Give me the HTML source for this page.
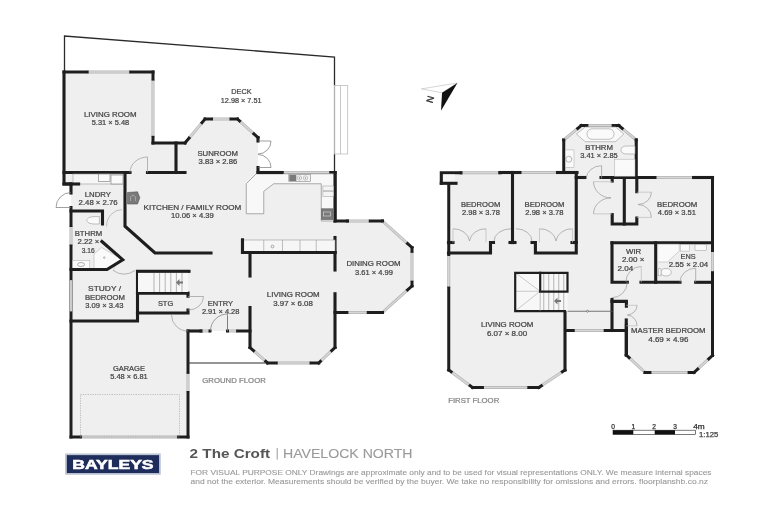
<!DOCTYPE html>
<html><head><meta charset="utf-8"><style>
html,body{margin:0;padding:0;background:#fff;width:768px;height:512px;overflow:hidden}
svg{display:block;font-family:"Liberation Sans",sans-serif}
</style></head><body>
<svg width="768" height="512" viewBox="0 0 768 512">
<g style="filter:grayscale(1)"><path d="M64.5,71 L64.5,36 L334.5,57 L334.5,85.5" fill="none" stroke="#2a2a2a" stroke-width="1.3"/>
<path d="M334.5,154 L334.5,172" fill="none" stroke="#2a2a2a" stroke-width="1.3"/>
<rect x="334.5" y="85.5" width="13.2" height="68.5" fill="none" stroke="#bdbdbd" stroke-width="0.8"/>
<path d="M334.5,85.5 L334.5,154" fill="none" stroke="#b0b0b0" stroke-width="1.3"/>
<path d="M340.5,85.5 L340.5,154" fill="none" stroke="#bdbdbd" stroke-width="0.8"/>
<polygon points="64,72 153,72 153,143 185,143 205,119 237.5,119 258,137.5 258,172.5 335,172.5 335,221 382.5,221 412,247.5 412,286 382.5,312.5 335,312.5 335,347.5 318.75,363 267.5,363 250,347.5 250,331 188,331 188,437 71,437 71,184 64,184" fill="#efefef" stroke="none" stroke-width="0"/>
<polygon points="440.5,172.5 563.75,172.5 563.75,140 581.25,125.5 618.75,125.5 636.25,140 636.25,177.5 712.5,177.5 712.5,355.5 694,372.5 645,372.5 626.25,355 626.25,330.5 565,330.5 565,370 538.75,387.5 472.5,387.5 448.75,370 448.75,183.75 440.5,183.75" fill="#efefef" stroke="none" stroke-width="0"/>
<path d="M87.14,72.00 L130.75,72.00" stroke="#b4b4b4" stroke-width="3.0" fill="none"/>
<path d="M87.14,72.00 L130.75,72.00" stroke="#d6d6d6" stroke-width="1.6" fill="none"/>
<path d="M64,72 L87.14,72.00" stroke="#1e1e1e" stroke-width="3.0" fill="none" stroke-linecap="square"/>
<path d="M130.75,72.00 L153,72" stroke="#1e1e1e" stroke-width="3.0" fill="none" stroke-linecap="square"/>
<path d="M64,72 L64,184 L71,184" fill="none" stroke="#1e1e1e" stroke-width="3.1" stroke-linecap="square" stroke-linejoin="miter"/>
<path d="M153.00,79.10 L153.00,137.32" stroke="#b4b4b4" stroke-width="3.0" fill="none"/>
<path d="M153.00,79.10 L153.00,137.32" stroke="#d6d6d6" stroke-width="1.6" fill="none"/>
<path d="M153,72 L153.00,79.10" stroke="#1e1e1e" stroke-width="3.0" fill="none" stroke-linecap="square"/>
<path d="M153.00,137.32 L153,143" stroke="#1e1e1e" stroke-width="3.0" fill="none" stroke-linecap="square"/>
<path d="M153,143 L185,143" fill="none" stroke="#1e1e1e" stroke-width="3.1" stroke-linecap="square" stroke-linejoin="miter"/>
<path d="M189.00,138.20 L202.00,122.60" stroke="#b4b4b4" stroke-width="3.0" fill="none"/>
<path d="M189.00,138.20 L202.00,122.60" stroke="#d6d6d6" stroke-width="1.6" fill="none"/>
<path d="M185,143 L189.00,138.20" stroke="#1e1e1e" stroke-width="3.0" fill="none" stroke-linecap="square"/>
<path d="M202.00,122.60 L205,119" stroke="#1e1e1e" stroke-width="3.0" fill="none" stroke-linecap="square"/>
<path d="M211.50,119.00 L231.00,119.00" stroke="#b4b4b4" stroke-width="3.0" fill="none"/>
<path d="M211.50,119.00 L231.00,119.00" stroke="#d6d6d6" stroke-width="1.6" fill="none"/>
<path d="M205,119 L211.50,119.00" stroke="#1e1e1e" stroke-width="3.0" fill="none" stroke-linecap="square"/>
<path d="M231.00,119.00 L237.5,119" stroke="#1e1e1e" stroke-width="3.0" fill="none" stroke-linecap="square"/>
<path d="M239.55,120.85 L253.90,133.80" stroke="#b4b4b4" stroke-width="3.0" fill="none"/>
<path d="M239.55,120.85 L253.90,133.80" stroke="#d6d6d6" stroke-width="1.6" fill="none"/>
<path d="M237.5,119 L239.55,120.85" stroke="#1e1e1e" stroke-width="3.0" fill="none" stroke-linecap="square"/>
<path d="M253.90,133.80 L258,137.5" stroke="#1e1e1e" stroke-width="3.0" fill="none" stroke-linecap="square"/>
<path d="M258,137.5 L258,141" fill="none" stroke="#1e1e1e" stroke-width="3.1" stroke-linecap="square" stroke-linejoin="miter"/>
<path d="M258,167.5 L258,172.5 L282,172.5" fill="none" stroke="#1e1e1e" stroke-width="3.1" stroke-linecap="square" stroke-linejoin="miter"/>
<path d="M282.00,172.50 L330.76,172.50" stroke="#b4b4b4" stroke-width="3.0" fill="none"/>
<path d="M282.00,172.50 L330.76,172.50" stroke="#d6d6d6" stroke-width="1.6" fill="none"/>
<path d="M282,172.5 L282.00,172.50" stroke="#1e1e1e" stroke-width="3.0" fill="none" stroke-linecap="square"/>
<path d="M330.76,172.50 L335,172.5" stroke="#1e1e1e" stroke-width="3.0" fill="none" stroke-linecap="square"/>
<path d="M335,172.5 L335,221 L347.5,221" fill="none" stroke="#1e1e1e" stroke-width="3.1" stroke-linecap="square" stroke-linejoin="miter"/>
<path d="M347.50,221.00 L370.25,221.00" stroke="#b4b4b4" stroke-width="3.0" fill="none"/>
<path d="M347.50,221.00 L370.25,221.00" stroke="#d6d6d6" stroke-width="1.6" fill="none"/>
<path d="M347.5,221 L347.50,221.00" stroke="#1e1e1e" stroke-width="3.0" fill="none" stroke-linecap="square"/>
<path d="M370.25,221.00 L382.5,221" stroke="#1e1e1e" stroke-width="3.0" fill="none" stroke-linecap="square"/>
<path d="M382.50,221.00 L407.57,243.53" stroke="#b4b4b4" stroke-width="3.0" fill="none"/>
<path d="M382.50,221.00 L407.57,243.53" stroke="#d6d6d6" stroke-width="1.6" fill="none"/>
<path d="M382.5,221 L382.50,221.00" stroke="#1e1e1e" stroke-width="3.0" fill="none" stroke-linecap="square"/>
<path d="M407.57,243.53 L412,247.5" stroke="#1e1e1e" stroke-width="3.0" fill="none" stroke-linecap="square"/>
<path d="M412.00,251.35 L412.00,282.15" stroke="#b4b4b4" stroke-width="3.0" fill="none"/>
<path d="M412.00,251.35 L412.00,282.15" stroke="#d6d6d6" stroke-width="1.6" fill="none"/>
<path d="M412,247.5 L412.00,251.35" stroke="#1e1e1e" stroke-width="3.0" fill="none" stroke-linecap="square"/>
<path d="M412.00,282.15 L412,286" stroke="#1e1e1e" stroke-width="3.0" fill="none" stroke-linecap="square"/>
<path d="M407.57,289.98 L382.50,312.50" stroke="#b4b4b4" stroke-width="3.0" fill="none"/>
<path d="M407.57,289.98 L382.50,312.50" stroke="#d6d6d6" stroke-width="1.6" fill="none"/>
<path d="M412,286 L407.57,289.98" stroke="#1e1e1e" stroke-width="3.0" fill="none" stroke-linecap="square"/>
<path d="M382.50,312.50 L382.5,312.5" stroke="#1e1e1e" stroke-width="3.0" fill="none" stroke-linecap="square"/>
<path d="M368.25,312.50 L346.88,312.50" stroke="#b4b4b4" stroke-width="3.0" fill="none"/>
<path d="M368.25,312.50 L346.88,312.50" stroke="#d6d6d6" stroke-width="1.6" fill="none"/>
<path d="M382.5,312.5 L368.25,312.50" stroke="#1e1e1e" stroke-width="3.0" fill="none" stroke-linecap="square"/>
<path d="M346.88,312.50 L335,312.5" stroke="#1e1e1e" stroke-width="3.0" fill="none" stroke-linecap="square"/>
<path d="M335,237.5 L335,270" fill="none" stroke="#1e1e1e" stroke-width="3.1" stroke-linecap="square" stroke-linejoin="miter"/>
<path d="M335,293.75 L335,347.5" fill="none" stroke="#1e1e1e" stroke-width="3.1" stroke-linecap="square" stroke-linejoin="miter"/>
<path d="M331.75,350.60 L320.38,361.45" stroke="#b4b4b4" stroke-width="3.0" fill="none"/>
<path d="M331.75,350.60 L320.38,361.45" stroke="#d6d6d6" stroke-width="1.6" fill="none"/>
<path d="M335,347.5 L331.75,350.60" stroke="#1e1e1e" stroke-width="3.0" fill="none" stroke-linecap="square"/>
<path d="M320.38,361.45 L318.75,363" stroke="#1e1e1e" stroke-width="3.0" fill="none" stroke-linecap="square"/>
<path d="M311.06,363.00 L276.21,363.00" stroke="#b4b4b4" stroke-width="3.0" fill="none"/>
<path d="M311.06,363.00 L276.21,363.00" stroke="#d6d6d6" stroke-width="1.6" fill="none"/>
<path d="M318.75,363 L311.06,363.00" stroke="#1e1e1e" stroke-width="3.0" fill="none" stroke-linecap="square"/>
<path d="M276.21,363.00 L267.5,363" stroke="#1e1e1e" stroke-width="3.0" fill="none" stroke-linecap="square"/>
<path d="M265.75,361.45 L253.50,350.60" stroke="#b4b4b4" stroke-width="3.0" fill="none"/>
<path d="M265.75,361.45 L253.50,350.60" stroke="#d6d6d6" stroke-width="1.6" fill="none"/>
<path d="M267.5,363 L265.75,361.45" stroke="#1e1e1e" stroke-width="3.0" fill="none" stroke-linecap="square"/>
<path d="M253.50,350.60 L250,347.5" stroke="#1e1e1e" stroke-width="3.0" fill="none" stroke-linecap="square"/>
<path d="M250,347.5 L250,307.5" fill="none" stroke="#1e1e1e" stroke-width="3.1" stroke-linecap="square" stroke-linejoin="miter"/>
<path d="M250,253 L250,276" fill="none" stroke="#1e1e1e" stroke-width="3.1" stroke-linecap="square" stroke-linejoin="miter"/>
<path d="M64,172.5 L130,172.5" fill="none" stroke="#1e1e1e" stroke-width="3.1" stroke-linecap="square" stroke-linejoin="miter"/>
<path d="M147.5,172.5 L185,172.5" fill="none" stroke="#1e1e1e" stroke-width="3.1" stroke-linecap="square" stroke-linejoin="miter"/>
<path d="M176,143 L176,172.5" fill="none" stroke="#1e1e1e" stroke-width="3.1" stroke-linecap="square" stroke-linejoin="miter"/>
<path d="M125,172.5 L125,226.25 L155,253 L211,253" fill="none" stroke="#1e1e1e" stroke-width="3.1" stroke-linecap="square" stroke-linejoin="miter"/>
<path d="M71,184 L71,193" fill="none" stroke="#1e1e1e" stroke-width="3.1" stroke-linecap="square" stroke-linejoin="miter"/>
<path d="M71.00,225.49 L71.00,246.01" stroke="#b4b4b4" stroke-width="3.0" fill="none"/>
<path d="M71.00,225.49 L71.00,246.01" stroke="#d6d6d6" stroke-width="1.6" fill="none"/>
<path d="M71,207.5 L71.00,225.49" stroke="#1e1e1e" stroke-width="3.0" fill="none" stroke-linecap="square"/>
<path d="M71.00,246.01 L71,437" stroke="#1e1e1e" stroke-width="3.0" fill="none" stroke-linecap="square"/>
<path d="M71,280.2 L71,311.3" stroke="#b4b4b4" stroke-width="2.8"/><path d="M71,280.2 L71,311.3" stroke="#d6d6d6" stroke-width="1.4"/>
<path d="M71,211 L102.5,211 L102.5,224" fill="none" stroke="#1e1e1e" stroke-width="3.1" stroke-linecap="square" stroke-linejoin="miter"/>
<path d="M71,321 L137.5,321 L137.5,271.25 L189,271.25" fill="none" stroke="#1e1e1e" stroke-width="3.1" stroke-linecap="square" stroke-linejoin="miter"/>
<path d="M137.5,293 L188,293 L188,296.25" fill="none" stroke="#1e1e1e" stroke-width="3.1" stroke-linecap="square" stroke-linejoin="miter"/>
<path d="M137.5,313 L188,313 L188,310" fill="none" stroke="#1e1e1e" stroke-width="3.1" stroke-linecap="square" stroke-linejoin="miter"/>
<path d="M188.00,372.34 L188.00,392.48" stroke="#b4b4b4" stroke-width="3.0" fill="none"/>
<path d="M188.00,372.34 L188.00,392.48" stroke="#d6d6d6" stroke-width="1.6" fill="none"/>
<path d="M188,331 L188.00,372.34" stroke="#1e1e1e" stroke-width="3.0" fill="none" stroke-linecap="square"/>
<path d="M188.00,392.48 L188,437" stroke="#1e1e1e" stroke-width="3.0" fill="none" stroke-linecap="square"/>
<path d="M80.36,437.00 L178.64,437.00" stroke="#b4b4b4" stroke-width="3.0" fill="none"/>
<path d="M80.36,437.00 L178.64,437.00" stroke="#d6d6d6" stroke-width="1.6" fill="none"/>
<path d="M71,437 L80.36,437.00" stroke="#1e1e1e" stroke-width="3.0" fill="none" stroke-linecap="square"/>
<path d="M178.64,437.00 L188,437" stroke="#1e1e1e" stroke-width="3.0" fill="none" stroke-linecap="square"/>
<path d="M188,331 L201,331" fill="none" stroke="#1e1e1e" stroke-width="3.1" stroke-linecap="square" stroke-linejoin="miter"/>
<path d="M201.00,331.00 L210.00,331.00" stroke="#b4b4b4" stroke-width="3.0" fill="none"/>
<path d="M201.00,331.00 L210.00,331.00" stroke="#d6d6d6" stroke-width="1.6" fill="none"/>
<path d="M201,331 L201.00,331.00" stroke="#1e1e1e" stroke-width="3.0" fill="none" stroke-linecap="square"/>
<path d="M210.00,331.00 L210,331" stroke="#1e1e1e" stroke-width="3.0" fill="none" stroke-linecap="square"/>
<path d="M227.50,331.00 L237.62,331.00" stroke="#b4b4b4" stroke-width="3.0" fill="none"/>
<path d="M227.50,331.00 L237.62,331.00" stroke="#d6d6d6" stroke-width="1.6" fill="none"/>
<path d="M227.5,331 L227.50,331.00" stroke="#1e1e1e" stroke-width="3.0" fill="none" stroke-linecap="square"/>
<path d="M237.62,331.00 L250,331" stroke="#1e1e1e" stroke-width="3.0" fill="none" stroke-linecap="square"/>
<path d="M227.5,316 L227.5,331" fill="none" stroke="#777" stroke-width="0.8"/>
<path d="M188,363 L267.5,363" fill="none" stroke="#2a2a2a" stroke-width="1.0"/>
<path d="M242.5,240 L242.5,252.5 L335,252.5" fill="none" stroke="#1e1e1e" stroke-width="3.1" stroke-linecap="square" stroke-linejoin="miter"/>
<rect x="242.5" y="240" width="92.5" height="12.5" fill="#f6f6f6" stroke="#999" stroke-width="0.6"/>
<path d="M263.75,240 L263.75,252.5" fill="none" stroke="#999" stroke-width="0.6"/>
<path d="M282.5,240 L282.5,252.5" fill="none" stroke="#999" stroke-width="0.6"/>
<path d="M300,240 L300,252.5" fill="none" stroke="#999" stroke-width="0.6"/>
<path d="M316.25,240 L316.25,252.5" fill="none" stroke="#999" stroke-width="0.6"/>
<circle cx="272.5" cy="246.5" r="1.4" fill="none" stroke="#777" stroke-width="0.6"/>
<path d="M242.5,240 L242.5,252.5 L335,252.5" fill="none" stroke="#1e1e1e" stroke-width="3.1" stroke-linecap="square" stroke-linejoin="miter"/>
<polygon points="246.25,213.75 246.25,183.75 256.25,173.75 335,173.75 335,221 321.25,221 321.25,183.75 273.75,183.75 263.75,191.25 263.75,213.75" fill="#f8f8f8" stroke="#8a8a8a" stroke-width="0.7"/>
<path d="M258,172.5 L282,172.5" fill="none" stroke="#1e1e1e" stroke-width="3.1" stroke-linecap="square" stroke-linejoin="miter"/>
<path d="M335,172.5 L335,221" fill="none" stroke="#1e1e1e" stroke-width="3.1" stroke-linecap="square" stroke-linejoin="miter"/>
<rect x="288.8" y="174.5" width="21.5" height="7" fill="#f2f2f2" stroke="#888" stroke-width="0.6"/>
<rect x="289.3" y="175" width="7" height="6" fill="#7a7a7a"/>
<circle cx="299.5" cy="178" r="2.2" fill="none" stroke="#999" stroke-width="0.5"/><circle cx="305.5" cy="178" r="2.2" fill="none" stroke="#999" stroke-width="0.5"/>
<circle cx="299.5" cy="178" r="0.6" fill="#555"/><circle cx="305.5" cy="178" r="0.6" fill="#555"/>
<rect x="322.9" y="186" width="10.8" height="4.8" fill="#f4f4f4" stroke="#999" stroke-width="0.5"/>
<rect x="322.9" y="191.5" width="10.8" height="4.8" fill="#f4f4f4" stroke="#999" stroke-width="0.5"/>
<rect x="321.5" y="208.8" width="11.5" height="10.8" fill="#7a7a7a" stroke="#555" stroke-width="0.5"/>
<rect x="323.5" y="212" width="7" height="4" fill="none" stroke="#ddd" stroke-width="0.6"/>
<polygon points="127.5,192.5 137.5,191.8 139.8,197.8 137.5,204 127.5,204" fill="#7a7a7a" stroke="#555" stroke-width="0.6"/>
<path d="M130.5,201 L130.5,197 Q133,193.5 135.5,197 L135.5,201" fill="none" stroke="#ccc" stroke-width="0.5"/>
<rect x="73" y="174" width="50" height="10" fill="#f6f6f6" stroke="#999" stroke-width="0.6"/>
<rect x="98.6" y="174" width="11.4" height="7.5" fill="#fafafa" stroke="#777" stroke-width="0.6"/>
<rect x="111" y="175" width="12" height="9" fill="#fafafa" stroke="#777" stroke-width="0.6"/>
<path d="M64,184 L78.6,184" fill="none" stroke="#1e1e1e" stroke-width="3.1" stroke-linecap="square" stroke-linejoin="miter"/>
<rect x="138" y="272.5" width="50" height="19.5" fill="#f7f7f7"/>
<path d="M154,272.5 L154,292" fill="none" stroke="#888" stroke-width="0.6"/>
<path d="M159.6,272.5 L159.6,292" fill="none" stroke="#888" stroke-width="0.6"/>
<path d="M165.2,272.5 L165.2,292" fill="none" stroke="#888" stroke-width="0.6"/>
<path d="M170.8,272.5 L170.8,292" fill="none" stroke="#888" stroke-width="0.6"/>
<path d="M176.4,272.5 L176.4,292" fill="none" stroke="#888" stroke-width="0.6"/>
<path d="M182,272.5 L182,292" fill="none" stroke="#888" stroke-width="0.6"/>
<path d="M176,282.5 L179.5,279 L179.5,281.5 L183,281.5 L183,283.5 L179.5,283.5 L179.5,286 Z" fill="#777"/>
<path d="M137.5,271.6 L188.8,271.6" fill="none" stroke="#1e1e1e" stroke-width="2.3" stroke-linecap="square" stroke-linejoin="miter"/>
<path d="M137.5,293.3 L188,293.3" fill="none" stroke="#1e1e1e" stroke-width="2.3" stroke-linecap="square" stroke-linejoin="miter"/>
<path d="M188,296.5 L203.5,296.5 A15,13.5 0 0 1 188,310" fill="none" stroke="#999" stroke-width="0.7"/>
<path d="M227.5,331 L227.50,314.00 A17,17 0 0 0 210.50,331.00" fill="none" stroke="#777" stroke-width="0.7"/>
<path d="M171.5,315 A16.5,16 0 0 0 188,331" fill="none" stroke="#999" stroke-width="0.7"/>
<path d="M71,207.5 L56.00,207.50 A15,15 0 0 1 71.00,192.50" fill="none" stroke="#777" stroke-width="0.7"/>
<path d="M147.5,172.5 L147.5,157 A17.5,15.5 0 0 0 130,172.5" fill="none" stroke="#999" stroke-width="0.7"/>
<path d="M258,141 L271.00,141.00 A13,13 0 0 1 258.00,154.00" fill="none" stroke="#777" stroke-width="0.7"/>
<path d="M258,167.5 L271.00,167.50 A13,13 0 0 0 258.00,154.50" fill="none" stroke="#777" stroke-width="0.7"/>
<rect x="80.5" y="394.5" width="99" height="42.5" fill="none" stroke="#999" stroke-width="0.6" stroke-dasharray="1.2,1.2"/>
<path d="M106.5,226.5 A15.3,17 0 0 1 121.8,209.6" fill="none" stroke="#aaa" stroke-width="0.7"/>
<path d="M113,270.4 Q124,278 135.2,270.4" fill="none" stroke="#999" stroke-width="0.7"/>
<path d="M119.5,258 L113,270.4" fill="none" stroke="#bbb" stroke-width="0.6"/>
<path d="M86.4,220.3 Q88,216.6 93,216.6 L99.4,216.6 L99.4,224 L93,224 Q88,224 86.4,220.3 Z" fill="#fafafa" stroke="#999" stroke-width="0.6"/>
<polygon points="94,254.2 101.5,247.5 122.7,259.7 107,268.6 94,268.6" fill="#fafafa" stroke="#aaa" stroke-width="0.5"/>
<rect x="72.7" y="260.4" width="17.1" height="8.2" fill="#fafafa" stroke="#aaa" stroke-width="0.5"/>
<ellipse cx="81" cy="264.5" rx="3.5" ry="2" fill="none" stroke="#777" stroke-width="0.6"/>
<circle cx="104.3" cy="257.6" r="0.8" fill="none" stroke="#777" stroke-width="0.5"/>
<path d="M71,269.5 L107,269.5 L122.7,259.7 L101.9,241.5" fill="none" stroke="#1e1e1e" stroke-width="3.1" stroke-linecap="square" stroke-linejoin="miter"/>
<path d="M441.3,183.3 L441.3,172.8 L461,172.8" fill="none" stroke="#1e1e1e" stroke-width="3.1" stroke-linecap="square" stroke-linejoin="miter"/>
<path d="M461.00,172.80 L500.00,172.80" stroke="#b4b4b4" stroke-width="3.0" fill="none"/>
<path d="M461.00,172.80 L500.00,172.80" stroke="#d6d6d6" stroke-width="1.6" fill="none"/>
<path d="M461,172.8 L461.00,172.80" stroke="#1e1e1e" stroke-width="3.0" fill="none" stroke-linecap="square"/>
<path d="M500.00,172.80 L500,172.8" stroke="#1e1e1e" stroke-width="3.0" fill="none" stroke-linecap="square"/>
<path d="M500,172.5 L520,172.5" fill="none" stroke="#1e1e1e" stroke-width="3.1" stroke-linecap="square" stroke-linejoin="miter"/>
<path d="M520.00,172.50 L557.50,172.50" stroke="#b4b4b4" stroke-width="3.0" fill="none"/>
<path d="M520.00,172.50 L557.50,172.50" stroke="#d6d6d6" stroke-width="1.6" fill="none"/>
<path d="M520,172.5 L520.00,172.50" stroke="#1e1e1e" stroke-width="3.0" fill="none" stroke-linecap="square"/>
<path d="M557.50,172.50 L557.5,172.5" stroke="#1e1e1e" stroke-width="3.0" fill="none" stroke-linecap="square"/>
<path d="M557.5,172.5 L577,172.5" fill="none" stroke="#1e1e1e" stroke-width="3.1" stroke-linecap="square" stroke-linejoin="miter"/>
<rect x="443" y="174.5" width="12" height="7.5" fill="#f6f6f6"/>
<path d="M441.3,183.3 L456,183.3" fill="none" stroke="#1e1e1e" stroke-width="3.1" stroke-linecap="square" stroke-linejoin="miter"/>
<path d="M448.75,254.53 L448.75,288.05" stroke="#b4b4b4" stroke-width="3.0" fill="none"/>
<path d="M448.75,254.53 L448.75,288.05" stroke="#d6d6d6" stroke-width="1.6" fill="none"/>
<path d="M448.75,183.75 L448.75,254.53" stroke="#1e1e1e" stroke-width="3.0" fill="none" stroke-linecap="square"/>
<path d="M448.75,288.05 L448.75,370" stroke="#1e1e1e" stroke-width="3.0" fill="none" stroke-linecap="square"/>
<path d="M451.12,371.75 L470.12,385.75" stroke="#b4b4b4" stroke-width="3.0" fill="none"/>
<path d="M451.12,371.75 L470.12,385.75" stroke="#d6d6d6" stroke-width="1.6" fill="none"/>
<path d="M448.75,370 L451.12,371.75" stroke="#1e1e1e" stroke-width="3.0" fill="none" stroke-linecap="square"/>
<path d="M470.12,385.75 L472.5,387.5" stroke="#1e1e1e" stroke-width="3.0" fill="none" stroke-linecap="square"/>
<path d="M482.44,387.50 L528.81,387.50" stroke="#b4b4b4" stroke-width="3.0" fill="none"/>
<path d="M482.44,387.50 L528.81,387.50" stroke="#d6d6d6" stroke-width="1.6" fill="none"/>
<path d="M472.5,387.5 L482.44,387.50" stroke="#1e1e1e" stroke-width="3.0" fill="none" stroke-linecap="square"/>
<path d="M528.81,387.50 L538.75,387.5" stroke="#1e1e1e" stroke-width="3.0" fill="none" stroke-linecap="square"/>
<path d="M541.38,385.75 L562.38,371.75" stroke="#b4b4b4" stroke-width="3.0" fill="none"/>
<path d="M541.38,385.75 L562.38,371.75" stroke="#d6d6d6" stroke-width="1.6" fill="none"/>
<path d="M538.75,387.5 L541.38,385.75" stroke="#1e1e1e" stroke-width="3.0" fill="none" stroke-linecap="square"/>
<path d="M562.38,371.75 L565,370" stroke="#1e1e1e" stroke-width="3.0" fill="none" stroke-linecap="square"/>
<path d="M565,370 L565,311.25" fill="none" stroke="#1e1e1e" stroke-width="3.1" stroke-linecap="square" stroke-linejoin="miter"/>
<path d="M512.5,172.5 L512.5,242.5" fill="none" stroke="#1e1e1e" stroke-width="3.1" stroke-linecap="square" stroke-linejoin="miter"/>
<path d="M448.5,253 L490.5,253 L490.5,242.5 L493.5,242.5" fill="none" stroke="#1e1e1e" stroke-width="3.1" stroke-linecap="square" stroke-linejoin="miter"/>
<path d="M448.5,242.5 L453,242.5" fill="none" stroke="#1e1e1e" stroke-width="3.1" stroke-linecap="square" stroke-linejoin="miter"/>
<path d="M532,242.5 L535.4,242.5 L535.4,253 L576.25,253 L576.25,172.5" fill="none" stroke="#1e1e1e" stroke-width="3.1" stroke-linecap="square" stroke-linejoin="miter"/>
<path d="M512.5,242.5 L515,242.5" fill="none" stroke="#1e1e1e" stroke-width="3.1" stroke-linecap="square" stroke-linejoin="miter"/>
<path d="M576.25,242.5 L572,242.5" fill="none" stroke="#1e1e1e" stroke-width="3.1" stroke-linecap="square" stroke-linejoin="miter"/>
<path d="M512.5,242.5 L510,242.5" fill="none" stroke="#1e1e1e" stroke-width="3.1" stroke-linecap="square" stroke-linejoin="miter"/>
<path d="M453,228.8 L453,242.5 M486,228.8 L486,242.5 M539.5,228.8 L539.5,242.5 M572.5,228.8 L572.5,242.5" stroke="#bbb" stroke-width="0.7"/>
<path d="M453,228.8 A16,14 0 0 1 469.5,241 A16,14 0 0 1 486,228.8" fill="none" stroke="#999" stroke-width="0.7"/>
<path d="M539.5,228.8 A16,14 0 0 1 556,241 A16,14 0 0 1 572.5,228.8" fill="none" stroke="#999" stroke-width="0.7"/>
<path d="M563.75,172.5 L563.75,140" fill="none" stroke="#1e1e1e" stroke-width="3.0" stroke-linecap="square" stroke-linejoin="miter"/>
<path d="M563.75,140.00 L577.75,128.40" stroke="#b4b4b4" stroke-width="3.0" fill="none"/>
<path d="M563.75,140.00 L577.75,128.40" stroke="#d6d6d6" stroke-width="1.6" fill="none"/>
<path d="M563.75,140 L563.75,140.00" stroke="#1e1e1e" stroke-width="3.0" fill="none" stroke-linecap="square"/>
<path d="M577.75,128.40 L581.25,125.5" stroke="#1e1e1e" stroke-width="3.0" fill="none" stroke-linecap="square"/>
<path d="M586.88,125.50 L613.12,125.50" stroke="#b4b4b4" stroke-width="3.0" fill="none"/>
<path d="M586.88,125.50 L613.12,125.50" stroke="#d6d6d6" stroke-width="1.6" fill="none"/>
<path d="M581.25,125.5 L586.88,125.50" stroke="#1e1e1e" stroke-width="3.0" fill="none" stroke-linecap="square"/>
<path d="M613.12,125.50 L618.75,125.5" stroke="#1e1e1e" stroke-width="3.0" fill="none" stroke-linecap="square"/>
<path d="M622.25,128.40 L636.25,140.00" stroke="#b4b4b4" stroke-width="3.0" fill="none"/>
<path d="M622.25,128.40 L636.25,140.00" stroke="#d6d6d6" stroke-width="1.6" fill="none"/>
<path d="M618.75,125.5 L622.25,128.40" stroke="#1e1e1e" stroke-width="3.0" fill="none" stroke-linecap="square"/>
<path d="M636.25,140.00 L636.25,140" stroke="#1e1e1e" stroke-width="3.0" fill="none" stroke-linecap="square"/>
<path d="M636.25,140 L636.25,177.5" fill="none" stroke="#1e1e1e" stroke-width="3.1" stroke-linecap="square" stroke-linejoin="miter"/>
<path d="M576.25,177.5 L585,177.5" fill="none" stroke="#1e1e1e" stroke-width="3.1" stroke-linecap="square" stroke-linejoin="miter"/>
<path d="M601,177.5 L655,177.5" fill="none" stroke="#1e1e1e" stroke-width="3.1" stroke-linecap="square" stroke-linejoin="miter"/>
<path d="M655.00,177.50 L693.75,177.50" stroke="#b4b4b4" stroke-width="3.0" fill="none"/>
<path d="M655.00,177.50 L693.75,177.50" stroke="#d6d6d6" stroke-width="1.6" fill="none"/>
<path d="M655,177.5 L655.00,177.50" stroke="#1e1e1e" stroke-width="3.0" fill="none" stroke-linecap="square"/>
<path d="M693.75,177.50 L693.75,177.5" stroke="#1e1e1e" stroke-width="3.0" fill="none" stroke-linecap="square"/>
<path d="M693.75,177.5 L712.5,177.5" fill="none" stroke="#1e1e1e" stroke-width="3.1" stroke-linecap="square" stroke-linejoin="miter"/>
<path d="M712.50,250.48 L712.50,272.73" stroke="#b4b4b4" stroke-width="3.0" fill="none"/>
<path d="M712.50,250.48 L712.50,272.73" stroke="#d6d6d6" stroke-width="1.6" fill="none"/>
<path d="M712.5,177.5 L712.50,250.48" stroke="#1e1e1e" stroke-width="3.0" fill="none" stroke-linecap="square"/>
<path d="M712.50,272.73 L712.5,355.5" stroke="#1e1e1e" stroke-width="3.0" fill="none" stroke-linecap="square"/>
<path d="M708.80,358.90 L697.70,369.10" stroke="#b4b4b4" stroke-width="3.0" fill="none"/>
<path d="M708.80,358.90 L697.70,369.10" stroke="#d6d6d6" stroke-width="1.6" fill="none"/>
<path d="M712.5,355.5 L708.80,358.90" stroke="#1e1e1e" stroke-width="3.0" fill="none" stroke-linecap="square"/>
<path d="M697.70,369.10 L694,372.5" stroke="#1e1e1e" stroke-width="3.0" fill="none" stroke-linecap="square"/>
<path d="M689.10,372.50 L649.90,372.50" stroke="#b4b4b4" stroke-width="3.0" fill="none"/>
<path d="M689.10,372.50 L649.90,372.50" stroke="#d6d6d6" stroke-width="1.6" fill="none"/>
<path d="M694,372.5 L689.10,372.50" stroke="#1e1e1e" stroke-width="3.0" fill="none" stroke-linecap="square"/>
<path d="M649.90,372.50 L645,372.5" stroke="#1e1e1e" stroke-width="3.0" fill="none" stroke-linecap="square"/>
<path d="M645.00,372.50 L629.06,357.62" stroke="#b4b4b4" stroke-width="3.0" fill="none"/>
<path d="M645.00,372.50 L629.06,357.62" stroke="#d6d6d6" stroke-width="1.6" fill="none"/>
<path d="M645,372.5 L645.00,372.50" stroke="#1e1e1e" stroke-width="3.0" fill="none" stroke-linecap="square"/>
<path d="M629.06,357.62 L626.25,355" stroke="#1e1e1e" stroke-width="3.0" fill="none" stroke-linecap="square"/>
<path d="M626.25,355 L626.25,320" fill="none" stroke="#1e1e1e" stroke-width="3.1" stroke-linecap="square" stroke-linejoin="miter"/>
<path d="M612.2,178.4 L612.2,181" fill="none" stroke="#1e1e1e" stroke-width="3.1" stroke-linecap="square" stroke-linejoin="miter"/>
<path d="M612.2,214.5 L612.2,224 L636.8,224 L636.8,218" fill="none" stroke="#1e1e1e" stroke-width="3.1" stroke-linecap="square" stroke-linejoin="miter"/>
<path d="M624.3,178.4 L624.3,224" fill="none" stroke="#1e1e1e" stroke-width="3.1" stroke-linecap="square" stroke-linejoin="miter"/>
<path d="M636.8,178.4 L636.8,191.7" fill="none" stroke="#1e1e1e" stroke-width="3.1" stroke-linecap="square" stroke-linejoin="miter"/>
<path d="M612,242.8 L711.3,242.8" fill="none" stroke="#1e1e1e" stroke-width="3.1" stroke-linecap="square" stroke-linejoin="miter"/>
<path d="M612,242.8 L612,282.3 L627.3,282.3" fill="none" stroke="#1e1e1e" stroke-width="3.1" stroke-linecap="square" stroke-linejoin="miter"/>
<path d="M641,282.3 L680,282.3" fill="none" stroke="#1e1e1e" stroke-width="3.1" stroke-linecap="square" stroke-linejoin="miter"/>
<path d="M695.7,282.3 L712.3,282.3" fill="none" stroke="#1e1e1e" stroke-width="3.1" stroke-linecap="square" stroke-linejoin="miter"/>
<path d="M655.7,242.8 L655.7,282.3" fill="none" stroke="#1e1e1e" stroke-width="3.1" stroke-linecap="square" stroke-linejoin="miter"/>
<path d="M612,299.5 L612,330.5" fill="none" stroke="#1e1e1e" stroke-width="3.1" stroke-linecap="square" stroke-linejoin="miter"/>
<path d="M612,301.4 L626.4,301.4 L626.4,306.3" fill="none" stroke="#1e1e1e" stroke-width="3.1" stroke-linecap="square" stroke-linejoin="miter"/>
<path d="M626.4,325 L626.4,355" fill="none" stroke="#1e1e1e" stroke-width="3.1" stroke-linecap="square" stroke-linejoin="miter"/>
<path d="M573.23,330.50 L605.16,330.50" stroke="#b4b4b4" stroke-width="3.0" fill="none"/>
<path d="M573.23,330.50 L605.16,330.50" stroke="#d6d6d6" stroke-width="1.6" fill="none"/>
<path d="M566,330.5 L573.23,330.50" stroke="#1e1e1e" stroke-width="3.0" fill="none" stroke-linecap="square"/>
<path d="M605.16,330.50 L626.25,330.5" stroke="#1e1e1e" stroke-width="3.0" fill="none" stroke-linecap="square"/>
<rect x="515" y="272.5" width="52.5" height="38.75" fill="#f7f7f7"/>
<path d="M543.75,272.5 L543.75,311.25" fill="none" stroke="#888" stroke-width="0.6"/>
<path d="M548.75,272.5 L548.75,311.25" fill="none" stroke="#888" stroke-width="0.6"/>
<path d="M553.75,272.5 L553.75,311.25" fill="none" stroke="#888" stroke-width="0.6"/>
<path d="M558.75,272.5 L558.75,311.25" fill="none" stroke="#888" stroke-width="0.6"/>
<path d="M563.75,272.5 L563.75,311.25" fill="none" stroke="#888" stroke-width="0.6"/>
<path d="M515,272.5 L540,291.25 L515,311.25" fill="none" stroke="#999" stroke-width="0.5"/>
<path d="M515,291.25 L540,291.25" fill="none" stroke="#999" stroke-width="0.5"/>
<path d="M540.2,291.6 L567.5,291.6 L567.5,272.8 L515.2,272.8 L515.2,311.1 L565,311.1" fill="none" stroke="#1e1e1e" stroke-width="2.2" stroke-linecap="square" stroke-linejoin="miter"/>
<path d="M540.2,272.8 L540.2,291.6" fill="none" stroke="#1e1e1e" stroke-width="2.2" stroke-linecap="square" stroke-linejoin="miter"/>
<path d="M540.2,291.6 L540.2,311.1" fill="none" stroke="#999" stroke-width="0.6"/>
<path d="M554,301 L557.5,297.5 L557.5,300 L561,300 L561,302 L557.5,302 L557.5,304.5 Z" fill="#777"/>
<path d="M567.5,311.25 L612.5,311.25" fill="none" stroke="#555" stroke-width="0.8"/>
<circle cx="587.5" cy="311.25" r="1" fill="#eee" stroke="#555" stroke-width="0.6"/>
<path d="M494,241.25 A17,12.5 0 0 1 511,228.75" fill="none" stroke="#999" stroke-width="0.7"/>
<path d="M516,228.75 A16,12.5 0 0 1 532,241.25" fill="none" stroke="#999" stroke-width="0.7"/>
<path d="M586.3,178.5 A15.3,12.8 0 0 1 601.6,165.7 L601.6,178.5" fill="none" stroke="#999" stroke-width="0.7"/>
<path d="M593.5,181.7 L612.2,181.7 M593.5,213.9 L612.2,213.9 M651.4,192.2 L636.8,192.2 M651.4,217.4 L636.8,217.4" stroke="#bbb" stroke-width="0.7"/>
<path d="M593.5,181.7 A17.5,16.2 0 0 0 611,197.9 A17.5,16 0 0 0 593.5,213.9" fill="none" stroke="#999" stroke-width="0.7"/>
<path d="M651.4,192.2 A13.4,12.3 0 0 1 638,204.5 A13.4,12.9 0 0 1 651.4,217.4" fill="none" stroke="#999" stroke-width="0.7"/>
<path d="M641.3,266.5 A15.4,15.4 0 0 0 625.9,281.9 M627.2,282.3 A15.5,15.5 0 0 1 611.7,297.8" fill="none" stroke="#999" stroke-width="0.7"/>
<path d="M641.3,266.5 L641.3,282.3" stroke="#bbb" stroke-width="0.7"/>
<path d="M680,282.3 A15.7,14.1 0 0 1 695.7,268.2 L695.7,282.3" fill="none" stroke="#999" stroke-width="0.7"/>
<path d="M626.4,305.3 L637.1,305.3 M626.4,325.8 L637.1,325.8" stroke="#bbb" stroke-width="0.7"/>
<path d="M637.1,305.3 A10.7,9.7 0 0 1 627.3,315 A10.7,10.8 0 0 1 637.1,325.8" fill="none" stroke="#999" stroke-width="0.7"/>
<polygon points="576.4,134 585.2,127 615.6,127 623.8,134 615.6,141.7 585.2,141.7" fill="#fafafa" stroke="#999" stroke-width="0.6"/>
<rect x="587" y="128.8" width="27" height="10.5" rx="5" fill="#fafafa" stroke="#999" stroke-width="0.6"/>
<rect x="565.3" y="149.9" width="8.7" height="17.5" fill="#fafafa" stroke="#aaa" stroke-width="0.5"/>
<circle cx="568.8" cy="159.2" r="3" fill="none" stroke="#888" stroke-width="0.6"/>
<path d="M621,150 Q621,146 627,146 L635,146 L635,154 L627,154 Q621,154 621,150 Z" fill="#fafafa" stroke="#999" stroke-width="0.6"/>
<rect x="614.5" y="159.2" width="20.5" height="17" fill="#fafafa" stroke="#aaa" stroke-width="0.5"/>
<path d="M661,272.2 Q661,268.5 666,268.5 Q671.2,268.5 671.2,272.2 Q671.2,276 666,276 Q661,276 661,272.2 Z" fill="#fafafa" stroke="#999" stroke-width="0.6"/>
<rect x="658.4" y="268.8" width="2.6" height="7" fill="#fafafa" stroke="#999" stroke-width="0.5"/>
<polygon points="657.6,244.2 679.2,244.2 679.2,251.1 667.5,262 657.6,262" fill="#fafafa" stroke="#aaa" stroke-width="0.5"/>
<rect x="680.5" y="244.6" width="9" height="6.5" fill="#fafafa" stroke="#aaa" stroke-width="0.5"/>
<rect x="695" y="244.6" width="11.4" height="6.1" fill="#fafafa" stroke="#999" stroke-width="0.5"/>
<polygon points="457.4,83 421.4,88.9 442.1,92.8" fill="#fff" stroke="#bbb" stroke-width="0.6"/>
<polygon points="457.4,83 442.1,92.8 441,110.8" fill="#111"/>
<text x="0" y="0" font-size="9.5" fill="#222" stroke="#222" stroke-width="0.3" transform="translate(432.5,103.5) rotate(-75)">N</text>
<rect x="613" y="430.2" width="82.4" height="4.2" fill="#fff" stroke="#222" stroke-width="0.6"/>
<rect x="613" y="430.2" width="20.3" height="4.2" fill="#111"/>
<rect x="654.7" y="430.2" width="20.3" height="4.2" fill="#111"/>
<text x="613" y="428.8" font-size="6.6" fill="#333" stroke="#333" stroke-width="0.25" font-weight="normal" text-anchor="middle">0</text>
<text x="633.3" y="428.8" font-size="6.6" fill="#333" stroke="#333" stroke-width="0.25" font-weight="normal" text-anchor="middle">1</text>
<text x="654.2" y="428.8" font-size="6.6" fill="#333" stroke="#333" stroke-width="0.25" font-weight="normal" text-anchor="middle">2</text>
<text x="675" y="428.8" font-size="6.6" fill="#333" stroke="#333" stroke-width="0.25" font-weight="normal" text-anchor="middle">3</text>
<text x="699" y="428.8" font-size="6.6" fill="#333" stroke="#333" stroke-width="0.25" font-weight="normal" text-anchor="middle" textLength="11.5" lengthAdjust="spacingAndGlyphs">4m</text>
<text x="699" y="436.6" font-size="6.6" fill="#444" stroke="#444" stroke-width="0.25" font-weight="normal" text-anchor="start" textLength="19.3" lengthAdjust="spacingAndGlyphs">1:125</text>
<text x="189.6" y="457.7" font-size="13.2" fill="#555" stroke="#555" stroke-width="0" font-weight="bold" text-anchor="start" textLength="80.5" lengthAdjust="spacingAndGlyphs">2 The Croft</text>
<rect x="276.6" y="448" width="1.3" height="11.6" fill="#b0b0b0"/>
<text x="283" y="458" font-size="12.9" fill="#9a9a9a" stroke="#9a9a9a" stroke-width="0.12" font-weight="normal" text-anchor="start" textLength="129.5" lengthAdjust="spacingAndGlyphs">HAVELOCK NORTH</text>
<text x="190.5" y="475.2" font-size="7.4" fill="#9a9a9a" stroke="#9a9a9a" stroke-width="0.12" font-weight="normal" text-anchor="start" textLength="521" lengthAdjust="spacingAndGlyphs">FOR VISUAL PURPOSE ONLY Drawings are approximate only and to be used for visual representations ONLY. We measure internal spaces</text>
<text x="190.5" y="483.5" font-size="7.4" fill="#9a9a9a" stroke="#9a9a9a" stroke-width="0.12" font-weight="normal" text-anchor="start" textLength="517.5" lengthAdjust="spacingAndGlyphs">and not the exterior. Measurements should be verified by the buyer. We take no responsibility for omissions and errors. floorplanshb.co.nz</text>
<text x="231.25" y="94.4" font-size="7.0" textLength="20.349999999999994" lengthAdjust="spacingAndGlyphs" fill="#444444" stroke="#444444" stroke-width="0.22">DECK</text>
<text x="220.8" y="103.3" font-size="7.0" textLength="40.69999999999999" lengthAdjust="spacingAndGlyphs" fill="#444444" stroke="#444444" stroke-width="0.22">12.98 × 7.51</text>
<text x="83.9" y="116.9" font-size="7.0" textLength="52.69999999999999" lengthAdjust="spacingAndGlyphs" fill="#444444" stroke="#444444" stroke-width="0.22">LIVING ROOM</text>
<text x="91.7" y="125.1" font-size="7.0" textLength="37.499999999999986" lengthAdjust="spacingAndGlyphs" fill="#444444" stroke="#444444" stroke-width="0.22">5.31 × 5.48</text>
<text x="197.4" y="155.5" font-size="7.0" textLength="40.599999999999994" lengthAdjust="spacingAndGlyphs" fill="#444444" stroke="#444444" stroke-width="0.22">SUNROOM</text>
<text x="198.6" y="163.75" font-size="7.0" textLength="38.70000000000002" lengthAdjust="spacingAndGlyphs" fill="#444444" stroke="#444444" stroke-width="0.22">3.83 × 2.86</text>
<text x="84.8" y="196.5" font-size="7.0" textLength="26.200000000000003" lengthAdjust="spacingAndGlyphs" fill="#444444" stroke="#444444" stroke-width="0.22">LNDRY</text>
<text x="78.6" y="205.1" font-size="7.0" textLength="39.10000000000001" lengthAdjust="spacingAndGlyphs" fill="#444444" stroke="#444444" stroke-width="0.22">2.48 × 2.76</text>
<text x="143.5" y="209.5" font-size="7.0" textLength="97.80000000000001" lengthAdjust="spacingAndGlyphs" fill="#444444" stroke="#444444" stroke-width="0.22">KITCHEN / FAMILY ROOM</text>
<text x="171.0" y="218.0" font-size="7.0" textLength="42.80000000000001" lengthAdjust="spacingAndGlyphs" fill="#444444" stroke="#444444" stroke-width="0.22">10.06 × 4.39</text>
<text x="74.7" y="236.2" font-size="7.0" textLength="27.5" lengthAdjust="spacingAndGlyphs" fill="#444444" stroke="#444444" stroke-width="0.22">BTHRM</text>
<text x="77.6" y="244.2" font-size="7.0" textLength="21.700000000000003" lengthAdjust="spacingAndGlyphs" fill="#444444" stroke="#444444" stroke-width="0.22">2.22 ×</text>
<text x="81.7" y="253.0" font-size="7.0" textLength="12.899999999999991" lengthAdjust="spacingAndGlyphs" fill="#444444" stroke="#444444" stroke-width="0.22">3.16</text>
<text x="88.1" y="291.4" font-size="7.0" textLength="32.900000000000006" lengthAdjust="spacingAndGlyphs" fill="#444444" stroke="#444444" stroke-width="0.22">STUDY /</text>
<text x="84.9" y="299.9" font-size="7.0" textLength="40.0" lengthAdjust="spacingAndGlyphs" fill="#444444" stroke="#444444" stroke-width="0.22">BEDROOM</text>
<text x="85.2" y="308.4" font-size="7.0" textLength="38.39999999999999" lengthAdjust="spacingAndGlyphs" fill="#444444" stroke="#444444" stroke-width="0.22">3.09 × 3.43</text>
<text x="157.9" y="306.1" font-size="7.0" textLength="15.299999999999983" lengthAdjust="spacingAndGlyphs" fill="#444444" stroke="#444444" stroke-width="0.22">STG</text>
<text x="207.8" y="306.1" font-size="7.0" textLength="25.19999999999999" lengthAdjust="spacingAndGlyphs" fill="#444444" stroke="#444444" stroke-width="0.22">ENTRY</text>
<text x="201.9" y="314.3" font-size="7.0" textLength="37.5" lengthAdjust="spacingAndGlyphs" fill="#444444" stroke="#444444" stroke-width="0.22">2.91 × 4.28</text>
<text x="266.8" y="297.4" font-size="7.0" textLength="52.89999999999998" lengthAdjust="spacingAndGlyphs" fill="#444444" stroke="#444444" stroke-width="0.22">LIVING ROOM</text>
<text x="273.2" y="305.6" font-size="7.0" textLength="39.69999999999999" lengthAdjust="spacingAndGlyphs" fill="#444444" stroke="#444444" stroke-width="0.22">3.97 × 6.08</text>
<text x="346.4" y="266.4" font-size="7.0" textLength="54.200000000000045" lengthAdjust="spacingAndGlyphs" fill="#444444" stroke="#444444" stroke-width="0.22">DINING ROOM</text>
<text x="355.0" y="275.0" font-size="7.0" textLength="37.89999999999998" lengthAdjust="spacingAndGlyphs" fill="#444444" stroke="#444444" stroke-width="0.22">3.61 × 4.99</text>
<text x="112.9" y="370.5" font-size="7.0" textLength="32.0" lengthAdjust="spacingAndGlyphs" fill="#444444" stroke="#444444" stroke-width="0.22">GARAGE</text>
<text x="110.2" y="379.1" font-size="7.0" textLength="37.499999999999986" lengthAdjust="spacingAndGlyphs" fill="#444444" stroke="#444444" stroke-width="0.22">5.48 × 6.81</text>
<text x="585.2" y="149.8" font-size="7.0" textLength="27.799999999999955" lengthAdjust="spacingAndGlyphs" fill="#444444" stroke="#444444" stroke-width="0.22">BTHRM</text>
<text x="580.2" y="158.4" font-size="7.0" textLength="37.5" lengthAdjust="spacingAndGlyphs" fill="#444444" stroke="#444444" stroke-width="0.22">3.41 × 2.85</text>
<text x="460.9" y="206.9" font-size="7.0" textLength="39.400000000000034" lengthAdjust="spacingAndGlyphs" fill="#444444" stroke="#444444" stroke-width="0.22">BEDROOM</text>
<text x="462.0" y="215.0" font-size="7.0" textLength="38.0" lengthAdjust="spacingAndGlyphs" fill="#444444" stroke="#444444" stroke-width="0.22">2.98 × 3.78</text>
<text x="524.5" y="206.9" font-size="7.0" textLength="39.89999999999998" lengthAdjust="spacingAndGlyphs" fill="#444444" stroke="#444444" stroke-width="0.22">BEDROOM</text>
<text x="525.3" y="215.0" font-size="7.0" textLength="38.30000000000007" lengthAdjust="spacingAndGlyphs" fill="#444444" stroke="#444444" stroke-width="0.22">2.98 × 3.78</text>
<text x="657.0" y="206.9" font-size="7.0" textLength="40.299999999999955" lengthAdjust="spacingAndGlyphs" fill="#444444" stroke="#444444" stroke-width="0.22">BEDROOM</text>
<text x="657.8" y="215.1" font-size="7.0" textLength="38.30000000000007" lengthAdjust="spacingAndGlyphs" fill="#444444" stroke="#444444" stroke-width="0.22">4.69 × 3.51</text>
<text x="626.0" y="254.1" font-size="7.0" textLength="15.25" lengthAdjust="spacingAndGlyphs" fill="#444444" stroke="#444444" stroke-width="0.22">WIR</text>
<text x="621.9" y="262.4" font-size="7.0" textLength="22.5" lengthAdjust="spacingAndGlyphs" fill="#444444" stroke="#444444" stroke-width="0.22">2.00 ×</text>
<text x="617.5" y="271.1" font-size="7.0" textLength="15.600000000000023" lengthAdjust="spacingAndGlyphs" fill="#444444" stroke="#444444" stroke-width="0.22">2.04</text>
<text x="680.6" y="258.6" font-size="7.0" textLength="15.0" lengthAdjust="spacingAndGlyphs" fill="#444444" stroke="#444444" stroke-width="0.22">ENS</text>
<text x="668.75" y="267.4" font-size="7.0" textLength="39.35000000000002" lengthAdjust="spacingAndGlyphs" fill="#444444" stroke="#444444" stroke-width="0.22">2.55 × 2.04</text>
<text x="480.9" y="327.4" font-size="7.0" textLength="52.5" lengthAdjust="spacingAndGlyphs" fill="#444444" stroke="#444444" stroke-width="0.22">LIVING ROOM</text>
<text x="486.9" y="335.9" font-size="7.0" textLength="40.200000000000045" lengthAdjust="spacingAndGlyphs" fill="#444444" stroke="#444444" stroke-width="0.22">6.07 × 8.00</text>
<text x="631.1" y="333.25" font-size="7.0" textLength="74.5" lengthAdjust="spacingAndGlyphs" fill="#444444" stroke="#444444" stroke-width="0.22">MASTER BEDROOM</text>
<text x="648.3" y="341.8" font-size="7.0" textLength="40.10000000000002" lengthAdjust="spacingAndGlyphs" fill="#444444" stroke="#444444" stroke-width="0.22">4.69 × 4.96</text>
<text x="202.25" y="383.3" font-size="7.0" textLength="63.55000000000001" lengthAdjust="spacingAndGlyphs" fill="#858585" stroke="#858585" stroke-width="0.22">GROUND FLOOR</text>
<text x="448.2" y="403.4" font-size="7.0" textLength="51.05000000000001" lengthAdjust="spacingAndGlyphs" fill="#858585" stroke="#858585" stroke-width="0.22">FIRST FLOOR</text></g><rect x="66" y="454.3" width="93.9" height="19.6" fill="#1f2d5c" stroke="#bcc3d2" stroke-width="1.7"/>
<text x="72.3" y="469.4" font-size="13" fill="#ffffff" stroke="#ffffff" stroke-width="0.55" font-weight="bold" textLength="81.3" lengthAdjust="spacingAndGlyphs" style="filter:grayscale(1)">BAYLEYS</text>
</svg>
</body></html>
